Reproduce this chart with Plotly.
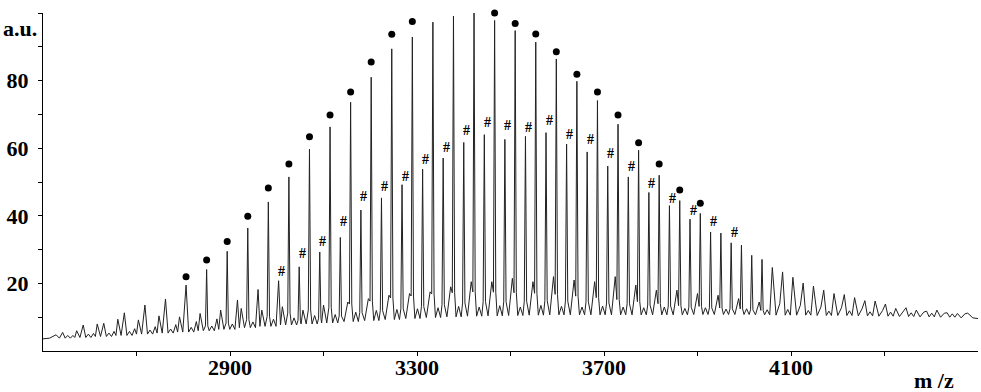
import plotly.graph_objects as go

# ---------------- data ----------------
# main series (marked with dots), m/z and intensity (a.u.)
A_mz = [2542, 2586, 2630, 2674, 2718, 2762, 2806, 2850, 2894, 2938, 2982, 3026, 3070, 3114,
        3158, 3202, 3246, 3290, 3334, 3378, 3422, 3466, 3510, 3554, 3598, 3642, 3686, 3730,
        3774, 3818, 3862, 3906, 3950, 3994, 4038, 4082, 4126, 4170, 4214, 4258, 4302, 4346,
        4390, 4434, 4478]
A_int = [5.5, 7.7, 8.2, 11.3, 13.6, 15.4, 19.5, 24.1, 29.5, 36.4, 44.1, 51.5, 59.7, 66.3,
         73.6, 81.0, 89.4, 92.9, 97.3, 99.1, 100.0, 97.8, 94.8, 91.4, 86.4, 79.8, 74.1, 67.1,
         59.4, 52.0, 44.5, 40.7, 34.9, 31.3, 27.1, 23.4, 20.1, 18.0, 16.7, 14.9, 13.9, 12.8,
         11.8, 11.3, 11.2]

# second series (marked with #)
B_mz = [2564, 2608, 2652, 2696, 2740, 2784, 2828, 2872, 2916, 2960, 3004, 3048, 3092, 3136,
        3180, 3224, 3268, 3312, 3356, 3400, 3444, 3488, 3532, 3576, 3620, 3664, 3708, 3752,
        3796, 3840, 3884, 3928, 3972, 4016, 4060, 4104, 4148, 4192, 4236, 4280, 4324, 4368,
        4412, 4456]
B_int = [4.6, 5.2, 5.8, 6.6, 7.2, 7.8, 8.7, 9.5, 15.1, 18.2, 20.8, 24.9, 29.3, 33.6,
         41.7, 45.3, 49.2, 53.8, 57.1, 61.7, 64.0, 62.6, 63.5, 64.6, 61.2, 58.9, 54.7, 51.5,
         46.9, 43.0, 39.0, 35.2, 32.0, 28.3, 24.7, 21.8, 19.2, 17.0, 15.8, 14.8, 12.6, 12.1,
         12.1, 11.1]

# minor peaks / shoulders
C_mz = [2528, 2572, 2616, 2660, 2704, 2748, 2792, 2836, 2880, 2924, 2968, 3012, 3056, 3100,
        3152, 3196, 3240, 3284, 3328, 3372, 3416, 3460, 3504, 3548, 3592, 3636, 3680, 3724,
        3768, 3812, 3856, 3900, 3944, 3988, 4032, 4076, 4120, 4164, 4208, 4252, 4296, 4340,
        4384, 4428, 4472]
C_int = [4.8, 6.0, 8.0, 9.4, 9.2, 10.4, 10.1, 11.1, 12.1, 12.6, 12.1, 13.1, 12.1, 13.6,
         14.5, 15.5, 16.5, 17.0, 17.5, 19.0, 20.5, 20.5, 21.5, 20.5, 22.0, 21.0, 20.5, 22.0,
         19.5, 18.0, 18.0, 17.0, 16.5, 15.5, 14.5, 14.0, 13.5, 13.0, 12.8, 12.5, 12.0, 11.8,
         11.5, 11.2, 11.0]

D_mz = [2553, 2597, 2641, 2685, 2729, 2773, 2817, 2861, 2905, 2949, 2993, 3037, 3081, 3125,
        3169, 3213, 3257, 3301, 3345, 3389, 3433, 3477, 3521, 3565, 3609, 3653, 3697, 3741,
        3785, 3829, 3873, 3917, 3961, 4005, 4049, 4093, 4137, 4181, 4225, 4269, 4313, 4357,
        4401, 4445]
D_int = [4.6, 5.0, 5.3, 5.8, 6.2, 6.5, 7.0, 7.4, 8.0, 8.6, 9.4, 9.8, 10.5, 10.8,
         11.5, 12.0, 12.3, 12.5, 12.8, 13.2, 13.0, 13.4, 13.0, 13.5, 13.2, 13.0, 13.3, 13.0,
         12.8, 13.0, 12.6, 12.8, 12.4, 12.5, 12.2, 12.3, 12.0, 11.8, 11.9, 11.6, 11.5, 11.3,
         11.2, 11.0]

# baseline (valley) level in each repeat unit
valley = [3.8, 4.0, 4.3, 4.6, 5.0, 5.3, 5.6, 6.0, 6.4, 6.9, 7.3, 7.7, 8.0, 8.3,
          8.7, 9.0, 9.3, 9.6, 9.9, 10.1, 10.3, 10.4, 10.5, 10.6, 10.7, 10.7, 10.7, 10.7,
          10.7, 10.7, 10.7, 10.8, 10.8, 10.8, 10.7, 10.6, 10.6, 10.5, 10.5, 10.4, 10.3, 10.2,
          10.1, 10.0, 9.8]
edge_mz = [2500, 4500]
edge_int = [3.6, 9.6]

# label heights for the markers
dot_y = [22.0, 26.9, 32.4, 39.9, 48.2, 55.3, 63.4, 69.8, 76.6, 85.5, 93.7, 97.5, 100.5,
         102.1, 102.1, 100.0, 96.9, 93.8, 88.5, 81.9, 76.6, 69.8, 61.6, 55.3, 47.6, 43.7]
hash_y = [23.6, 28.9, 32.5, 38.2, 45.6, 48.6, 51.7, 56.8, 60.1, 65.3, 67.7, 66.6, 66.1,
          68.3, 64.1, 62.6, 58.4, 54.5, 49.6, 45.2, 41.7, 38.2, 35.0]
dot_x = A_mz[6:32]
hash_x = B_mz[10:33]

x_ticks = [2900, 3300, 3700, 4100]
x_minor = [2700, 3100, 3500, 3900, 4300]
y_ticks = [20, 40, 60, 80]
y_minor = [10, 30, 50, 70, 90, 100]

# ---------------- build the spectrum polyline ----------------
peaks = []
for series_mz, series_int in ((A_mz, A_int), (B_mz, B_int), (C_mz, C_int), (D_mz, D_int)):
    for k, (m, h) in enumerate(zip(series_mz, series_int)):
        peaks.append((m, h, k))
peaks.sort()

xs = [edge_mz[0]]
ys = [edge_int[0]]
prev = edge_mz[0]
for m, h, k in peaks:
    v = valley[k]
    if m - prev > 6.5:
        xs.append((m + prev) / 2.0)
        ys.append(v)
    if h - v > 15:
        foot = v + 0.08 * (h - v)
        xs += [m - 2.5, m, m + 2.5]
        ys += [foot, h, foot]
    else:
        xs.append(m)
        ys.append(h)
    prev = m
xs.append((prev + edge_mz[1]) / 2.0)
ys.append(valley[-1])
xs.append(edge_mz[1])
ys.append(edge_int[1])

SERIF = "Liberation Serif, Times New Roman, serif"

fig = go.Figure()
fig.add_trace(go.Scatter(x=xs, y=ys, mode="lines",
                         line=dict(color="#222222", width=1.0),
                         hoverinfo="skip", showlegend=False))
fig.add_trace(go.Scatter(x=dot_x, y=dot_y, mode="markers",
                         marker=dict(color="black", size=7),
                         cliponaxis=False, showlegend=False))

annotations = []
for hx, hy in zip(hash_x, hash_y):
    annotations.append(dict(x=hx, y=hy, xref="x", yref="y", text="#", showarrow=False,
                            xshift=3, font=dict(family=SERIF, size=14, color="black", weight="bold")))
annotations.append(dict(x=-0.0244, y=0.954, xref="paper", yref="paper", text="a.u.",
                        showarrow=False, xanchor="center", yanchor="middle",
                        font=dict(family=SERIF, size=22, color="black", weight="bold")))
annotations.append(dict(x=0.953, y=-0.087, xref="paper", yref="paper", text="m /z",
                        showarrow=False, xanchor="center", yanchor="middle",
                        font=dict(family=SERIF, size=22, color="black", weight="bold")))

fig.update_layout(
    width=981, height=392,
    margin=dict(l=43, r=3, t=13, b=41),
    plot_bgcolor="white", paper_bgcolor="white",
    annotations=annotations,
    xaxis=dict(range=[edge_mz[0], edge_mz[1]], showgrid=False, zeroline=False,
               showline=True, linecolor="black", linewidth=1.2,
               tickvals=x_ticks, ticks="outside", ticklen=4, tickcolor="black", tickwidth=1,
               ticklabelstandoff=-8,
               minor=dict(tickvals=x_minor, ticks="outside", ticklen=4, tickcolor="black"),
               tickfont=dict(family=SERIF, size=22, color="black", weight="bold")),
    yaxis=dict(range=[0, 100], showgrid=False, zeroline=False,
               showline=True, linecolor="black", linewidth=1.2,
               tickvals=y_ticks, ticks="outside", ticklen=4, tickcolor="black", tickwidth=1,
               ticklabelstandoff=5,
               minor=dict(tickvals=y_minor, ticks="outside", ticklen=4, tickcolor="black"),
               tickfont=dict(family=SERIF, size=22, color="black", weight="bold")),
)

fig.write_html("out.html", config={"displayModeBar": False},
               post_script="document.body.style.margin='0';document.body.style.overflow='hidden';")
